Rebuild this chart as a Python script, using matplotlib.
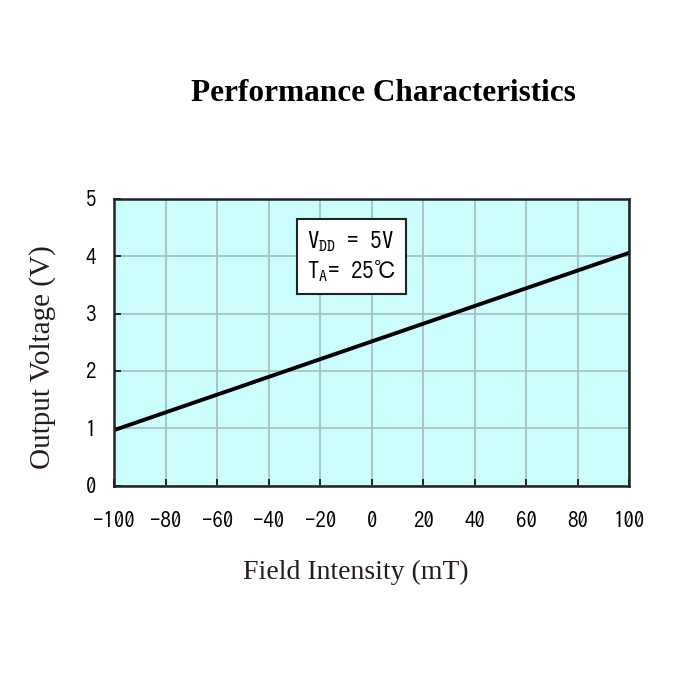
import matplotlib
matplotlib.use("Agg")
import matplotlib.pyplot as plt

field = [-100, 100]
voltage = [0.97, 4.06]
xticks = [-100, -80, -60, -40, -20, 0, 20, 40, 60, 80, 100]
xticklabels = ['-100', '-80', '-60', '-40', '-20', '0', '20', '40', '60', '80', '100']
yticks = [0, 1, 2, 3, 4, 5]

tickfont = ['IPAGothic', 'DejaVu Sans']
boxfont = ['IPAGothic', 'DejaVu Sans']

fig = plt.figure(figsize=(7, 7), dpi=100)
fig.patch.set_facecolor('white')
ax = fig.add_axes([0.163, 0.306, 0.736, 0.410])
ax.set_facecolor('#ccfdfd')
ax.plot(field, voltage, color='black', lw=2.8)
ax.set_xlim(-100, 100)
ax.set_ylim(0, 5)
ax.set_xticks(xticks)
ax.set_xticklabels(xticklabels)
ax.set_yticks(yticks)
ax.grid(True, color='#a9bfc4', lw=1.3)
ax.set_axisbelow(True)
for s in ax.spines.values():
    s.set_color('#222222')
    s.set_linewidth(1.8)
ax.tick_params(direction='in', length=5, width=1.4, colors='#222222', labelsize=15)
ax.tick_params(axis='x', pad=18)
ax.tick_params(axis='y', pad=13)
for lab in ax.get_xticklabels() + ax.get_yticklabels():
    lab.set_fontfamily(tickfont)
    lab.set_color('black')

ax.set_xlabel('Field Intensity (mT)', family='Liberation Serif', fontsize=20,
              color='#2a1a1a')
ax.xaxis.set_label_coords(0.47, -0.303)
ax.xaxis.label.set_va('center')
ax.set_ylabel('Output Voltage (V)', family='Liberation Serif', fontsize=21,
              color='#2a1a1a')
ax.yaxis.set_label_coords(-0.138, 0.45)
ax.yaxis.label.set_va('center')
fig.text(0.547, 0.867, 'Performance Characteristics', family='Liberation Serif',
         fontsize=22.5, fontweight='bold', ha='center', va='center')

ax.text(-25.0, 4.47, '$\\mathregular{V_{DD}}$ = 5V\n$\\mathregular{T_A}$= 25\u2103',
        family=boxfont, fontsize=16.5, va='top', ha='left',
        linespacing=1.2,
        bbox=dict(boxstyle='square,pad=0.45', fc='white', ec='#222222', lw=1.5))

fig.savefig('out.png', dpi=100)
